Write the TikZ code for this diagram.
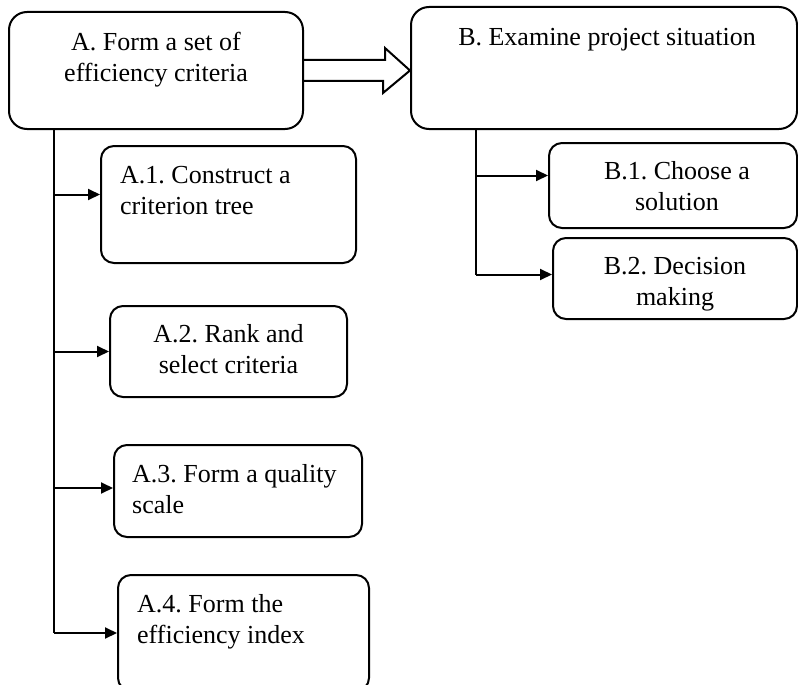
\documentclass[tikz,border=0pt]{standalone}
\usepackage{fontspec}
\setmainfont{Liberation Serif}
\usetikzlibrary{arrows.meta, positioning, calc}
\frenchspacing

\tikzset{
  stage/.style={draw, line width=2pt, rounded corners=18pt},
  step box/.style={draw, line width=2pt, rounded corners=13pt},
  caption/.style={inner sep=0pt, font=\fontsize{26}{31}\selectfont},
  link/.style={line width=2pt},
  branch/.style={line width=2pt, -{Triangle[length=12pt,width=11pt]}}
}

\begin{document}
\begin{tikzpicture}[x=1pt, y=-1pt]
        \useasboundingbox (0,0) rectangle (798,685);
        % two main stages
        \node[stage, minimum width=294pt, minimum height=117pt] (a) at (156,70.5) {};
        \node[stage, minimum width=386pt, minimum height=122pt] (b) at (604,68) {};
        \node[caption, align=center, below=21pt of a.north] (a-t) {A. Form a set of\\efficiency criteria};
        \node[caption, below=22pt of b.north, xshift=3pt] (b-t) {B. Examine project situation};

        % hollow block arrow from A to B
        \draw[link, line join=miter] (a.east) ++(0,-10.5) -- ++(81,0) -- ++(0,-12)
          -- (b.west |- a.east) -- ++(-27,22.5) -- ++(0,-12) -- ++(-81,0);

        % sub-steps of A
        \node[step box, minimum width=255pt, minimum height=117pt] (a1) at (228.5,204.5) {};
        \node[step box, minimum width=237pt, minimum height=91pt] (a2) at (228.5,351.5) {};
        \node[step box, minimum width=248pt, minimum height=92pt] (a3) at (238,491) {};
        \node[step box, minimum width=251pt, minimum height=116pt] (a4) at (243.5,633) {};
        \node[caption, align=left, below right=21pt and 20pt of a1.north west] (a1-t) {A.1. Construct a\\criterion tree};
        \node[caption, align=center, below=19pt of a2.north] (a2-t) {A.2. Rank and\\select criteria};
        \node[caption, align=left, below right=20pt and 19pt of a3.north west] (a3-t) {A.3. Form a quality\\scale};
        \node[caption, align=left, below right=20pt and 20pt of a4.north west] (a4-t) {A.4. Form the\\efficiency index};

        % sub-steps of B
        \node[step box, minimum width=248pt, minimum height=85pt] (b1) at (673,185.5) {};
        \node[step box, minimum width=244pt, minimum height=81pt] (b2) at (675,278.5) {};
        \node[caption, align=center, below=19pt of b1.north, xshift=4pt] (b1-t) {B.1. Choose a\\solution};
        \node[caption, align=center, below=20pt of b2.north] (b2-t) {B.2. Decision\\making};

        % trunks and branches
        \coordinate (a-trunk) at ([xshift=46pt]a.south west);
        \coordinate (b-trunk) at ([xshift=66pt]b.south west);
        \draw[link] (a-trunk) -- (a-trunk |- a4.west);
        \draw[link] (b-trunk) -- ([yshift=4pt]b-trunk |- b2.west);
        \foreach \n/\s in {a1/10, a2/0, a3/3, a4/0}
          \draw[branch] ([yshift=\s pt]a-trunk |- \n.west) -- ([yshift=\s pt]\n.west);
        \foreach \n/\s in {b1/10, b2/4}
          \draw[branch] ([yshift=\s pt]b-trunk |- \n.west) -- ([yshift=\s pt]\n.west);
      \end{tikzpicture}
\end{document}
